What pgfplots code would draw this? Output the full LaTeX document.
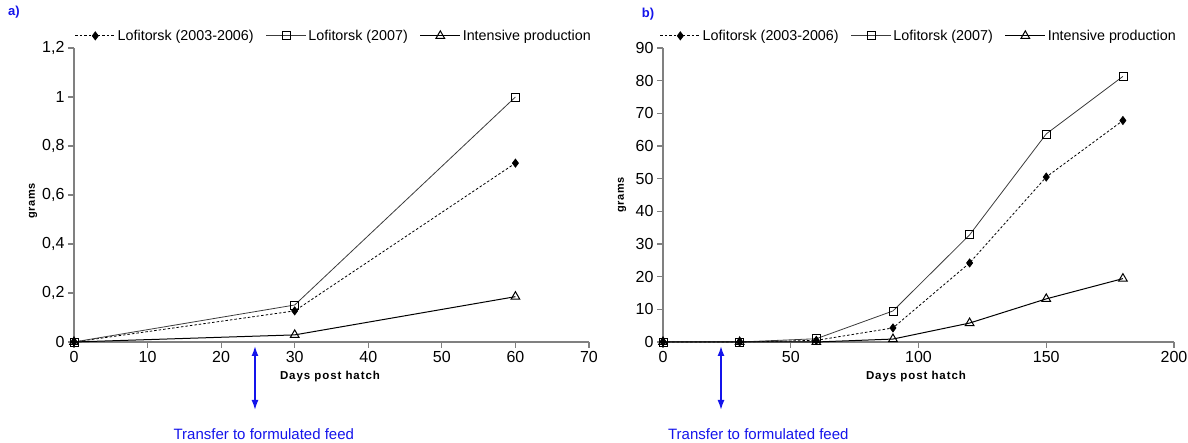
\documentclass[border=0pt]{standalone}
\usepackage{fontspec}
\setmainfont{Liberation Sans}
\usepackage{pgfplots}
\pgfplotsset{compat=1.18}
\usetikzlibrary{arrows.meta}
\definecolor{axgray}{RGB}{128,128,128}
\definecolor{fblue}{RGB}{20,20,235}
\definecolor{dgray}{RGB}{60,60,60}

\tikzset{
 xl/.style={font=\bfseries\fontsize{11.5}{13}\selectfont\addfontfeature{LetterSpace=8}},
 yl/.style={rotate=90, font=\bfseries\fontsize{11}{13}\selectfont\addfontfeature{LetterSpace=5}},
 sA/.style={black, line width=0.8pt, dash pattern=on 2.5pt off 2pt, mark=diamond*, mark size=4pt, mark options={solid, fill=black}},
 sB/.style={dgray, line width=0.8pt, mark=square, mark size=4pt, mark options={solid, fill=white, draw=black}},
 sC/.style={black, line width=1pt, mark=triangle, mark size=5pt, mark options={solid, fill=white, draw=black}},
 farrow/.style={fblue, line width=1.6pt, {Latex[length=10pt,width=7pt]}-{Latex[length=10pt,width=7pt]}},
}
\pgfplotsset{
 mystyle/.style={
  scale only axis, height=294pt,
  axis x line=bottom, axis y line=left,
  axis line style={-, axgray, line width=1.1pt},
  tick style={axgray, line width=1.1pt},
  tick align=outside, major tick length=6pt,
  every tick label/.append style={font=\fontsize{16}{18}\selectfont},
  /pgf/number format/assume math mode=true,
  /pgf/number format/use comma,
  clip=false,
  legend columns=3,
  legend style={draw=none, fill=none, inner sep=0pt, font=\fontsize{14.3}{16}\selectfont,
    /tikz/every even column/.append style={column sep=10pt},
    at={(1,1)}, anchor=south east, yshift=4pt, xshift=4pt},
  legend image code/.code={\draw[mark repeat=2,mark phase=2] plot coordinates {(0pt,0pt)(20pt,0pt)(40pt,0pt)};},
 },
}

\begin{document}
\begin{tikzpicture}
% panel a
\begin{axis}[mystyle, at={(74pt,101pt)}, anchor=south west, width=515pt,
  xmin=0, xmax=70, ymin=0, ymax=1.2,
  xtick={0,10,...,70}, ytick={0,0.2,0.4,0.6,0.8,1,1.2},
  yticklabel style={/pgf/number format/fixed},
  ]
\addplot[sA] coordinates {(0,0) (30,0.127) (60,0.73)};
\addplot[sB] coordinates {(0,0) (30,0.151) (60,1.0)};
\addplot[sC] coordinates {(0,0) (30,0.029) (60,0.185)};
\legend{Lofitorsk (2003-2006), Lofitorsk (2007), Intensive production}
\node[xl] at ([yshift=-35pt]axis description cs:0.497,0) {Days post hatch};
\node[yl] at ([xshift=-41pt]axis description cs:0,0.48) {grams};
\draw[farrow] ([yshift=-4pt]axis cs:24.6,0) -- ([yshift=-68pt]axis cs:24.6,0);
\node[fblue, font=\fontsize{15}{18}\selectfont] at ([yshift=-92pt]axis cs:25.8,0) {Transfer to formulated feed};
\node[fblue, font=\bfseries\fontsize{13}{15}\selectfont] at ([xshift=-60pt, yshift=36pt]axis description cs:0,1) {a)};
\end{axis}
% panel b
\begin{axis}[mystyle, at={(663pt,101pt)}, anchor=south west, width=511pt,
  xmin=0, xmax=200, ymin=0, ymax=90,
  xtick={0,50,...,200}, ytick={0,10,...,90},
  ]
\addplot[sA] coordinates {(0,0) (30,0) (60,0.5) (90,4.3) (120,24.2) (150,50.5) (180,67.8)};
\addplot[sB] coordinates {(0,0) (30,0) (60,1) (90,9.5) (120,32.8) (150,63.7) (180,81.3)};
\addplot[sC] coordinates {(0,0) (30,0) (60,0) (90,0.9) (120,5.8) (150,13.2) (180,19.4)};
\legend{Lofitorsk (2003-2006), Lofitorsk (2007), Intensive production}
\node[xl] at ([yshift=-35pt]axis description cs:0.495,0) {Days post hatch};
\node[yl] at ([xshift=-41pt]axis description cs:0,0.50) {grams};
\draw[farrow] ([yshift=-4pt]axis cs:22.7,0) -- ([yshift=-68pt]axis cs:22.7,0);
\node[fblue, font=\fontsize{15}{18}\selectfont] at ([yshift=-92pt]axis cs:37.3,0) {Transfer to formulated feed};
\node[fblue, font=\bfseries\fontsize{13}{15}\selectfont] at ([xshift=-15pt, yshift=34pt]axis description cs:0,1) {b)};
\end{axis}
\pgfresetboundingbox
\path[use as bounding box] (0,0) rectangle (1188pt,443pt);
\end{tikzpicture}
\end{document}
